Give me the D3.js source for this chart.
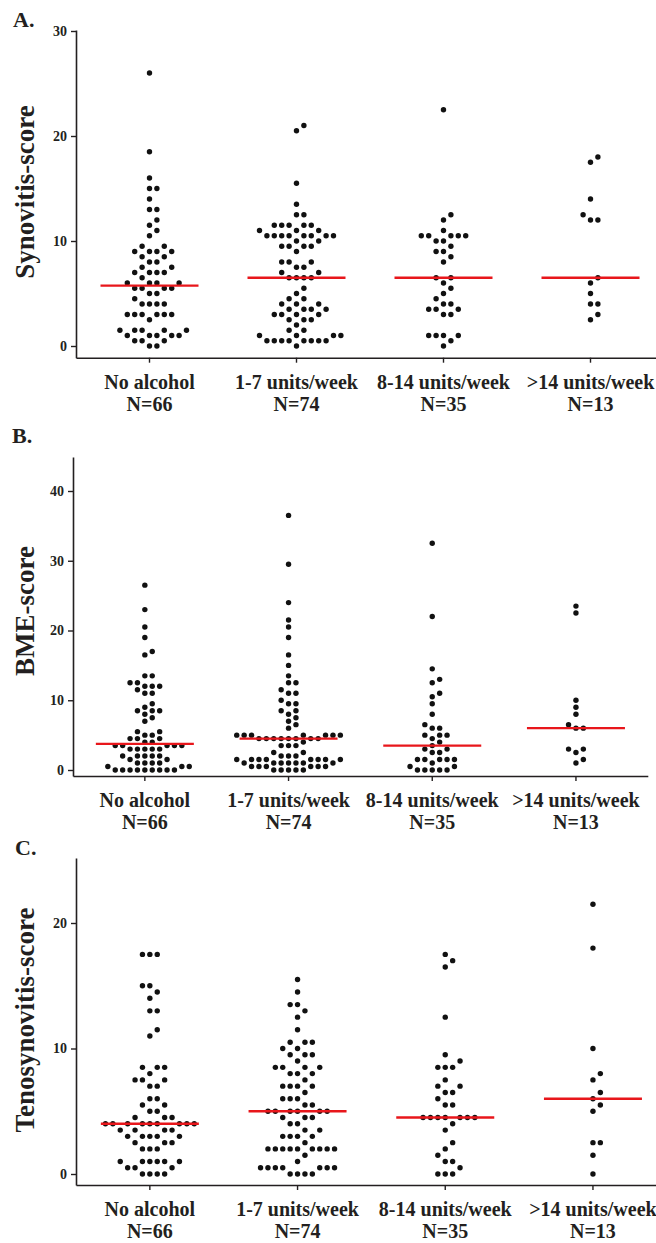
<!DOCTYPE html>
<html>
<head>
<meta charset="utf-8">
<script src="https://cdn.jsdelivr.net/npm/d3@7"></script>
<style>
  body { margin: 0; background: #fff; }
  svg { display: block; font-family: "Liberation Serif", "Times New Roman", serif; font-weight: bold; }
</style>
</head>
<body>
<svg id="chart" width="656" height="1243"></svg>
<script>
// Categories and group sizes
var categories = ['No alcohol', '1-7 units/week', '8-14 units/week', '>14 units/week'];
var groupN = ['N=66', 'N=74', 'N=35', 'N=13'];

// A. Synovitis-score
var synNone = [26, 18.5, 16, 15, 15, 14, 13, 13, 12, 11.5, 11, 10.5, 9.5, 9.5, 9, 9, 9, 9, 8.5, 8.5, 8, 8,
  7.5, 7.5, 7, 7, 7, 7, 6.5, 6, 6, 6, 6, 5.5, 5.5, 5.5, 5.5, 5, 5, 4.5, 4, 4, 4, 4, 3, 3, 3, 3, 3, 3,
  2.5, 1.5, 1.5, 1.5, 1.5, 1.5, 1, 1, 1, 1, 1, 0.5, 0.5, 0.5, 0, 0];
var syn1to7 = [21, 20.5, 15.5, 13.5, 12.5, 12.5, 11.5, 11.5, 11.5, 11.5, 11.5, 11, 11, 11,
  10.5, 10.5, 10.5, 10.5, 10.5, 10.5, 10.5, 10.5, 10, 10, 9.5, 9.5, 9.5, 9.5, 9, 8, 8, 8, 7.5, 7.5,
  7, 7, 6.5, 6.5, 6.5, 6.5, 5.5, 5, 4.5, 4.5, 4, 4, 4, 3.5, 3.5, 3.5, 3.5, 3, 3, 3, 3, 2.5, 2.5, 2.5,
  2, 1.5, 1.5, 1, 1, 1, 1, 0.5, 0.5, 0.5, 0.5, 0.5, 0.5, 0.5, 0.5, 0];
var syn8to14 = [22.5, 12.5, 12, 11, 10.5, 10.5, 10.5, 10.5, 10.5, 10, 10, 9.5, 9, 9, 8.5, 8, 6.5, 6.5,
  6, 5.5, 5, 4.5, 4, 4, 3.5, 3.5, 3.5, 3, 3, 1, 1, 1, 1, 0.5, 0];
var synOver14 = [18, 17.5, 14, 12.5, 12, 12, 6.5, 6, 5, 4, 4, 3, 2.5];
var synMedians = [5.75, 6.5, 6.5, 6.5];

// B. BME-score
var bmeNone = [26.5, 23, 20.5, 19, 17, 16.5, 13.5, 13.5, 12.5, 12.5, 12, 12, 12, 11.5, 11, 11, 9.5, 9,
  8.5, 8.5, 8.5, 8, 7.5, 7, 5.5, 5.5, 5, 5, 4.5, 4.5, 4.5, 4, 4, 3.5, 3.5, 3.5, 3.5, 3.5, 3, 3, 3, 3, 3,
  2, 2, 2, 2, 2, 1.5, 1.5, 1, 1, 1, 1, 0.5, 0.5, 0.5, 0, 0, 0, 0, 0, 0, 0, 0, 0];
var bme1to7 = [36.5, 29.5, 24, 21.5, 20.5, 19, 16.5, 15, 13.5, 12.5, 12.5, 11.5, 11, 11, 10, 9.5, 9.5,
  8.5, 8.5, 8, 7.5, 7, 6.5, 6, 5, 5, 5, 5, 5, 5, 5, 4.5, 4.5, 4.5, 4.5, 4.5, 4.5, 4.5, 4.5, 4,
  3.5, 3.5, 3.5, 2.5, 2.5, 2, 2, 2, 1.5, 1.5, 1.5, 1.5, 1.5, 1.5, 1.5, 1.5, 1, 1, 1, 1, 1, 1, 1,
  0.5, 0.5, 0.5, 0.5, 0.5, 0.5, 0, 0, 0, 0, 0];
var bme8to14 = [32.5, 22, 14.5, 13, 12.5, 11, 10.5, 9.5, 8, 6.5, 6, 6, 5, 5, 5, 4.5, 4, 3.5, 3, 3,
  2.5, 2.5, 1.5, 1.5, 1.5, 1.5, 1.5, 1, 0.5, 0.5, 0, 0, 0, 0, 0];
var bmeOver14 = [23.5, 22.5, 10, 9, 8, 6.5, 6, 6, 3, 3, 2.5, 1.5, 1];
var bmeMedians = [3.75, 4.5, 3.5, 6];

// C. Tenosynovitis-score
var tenNone = [17.5, 17.5, 17.5, 15, 15, 14.5, 14, 13, 13, 11.5, 11, 8.5, 8.5, 8.5, 8, 7.5, 7.5, 7.5,
  7, 7, 6, 6, 5.5, 5.5, 5, 5, 4.5, 4.5, 4.5, 4, 4, 4, 4, 4, 4, 4, 4, 4, 3.5, 3.5, 3.5, 3.5,
  3, 3, 3, 3, 3, 2.5, 2.5, 2.5, 2, 2, 2, 1, 1, 1, 1, 1, 1, 0.5, 0.5, 0.5, 0, 0, 0, 0];
var ten1to7 = [15.5, 14.5, 13.5, 13.5, 13, 12.5, 11.5, 10.5, 10.5, 10.5, 10, 10, 9.5, 9.5, 9.5, 9,
  8.5, 8.5, 8.5, 8.5, 8, 8, 8, 7.5, 7, 7, 7, 7, 6.5, 6, 6, 6, 5.5, 5.5, 5, 5, 5, 5, 5, 5,
  4.5, 4.5, 4.5, 4, 4, 3.5, 3.5, 3, 3, 3, 3, 2.5, 2, 2, 2, 2, 2, 2, 2, 2, 2, 1.5, 1,
  0.5, 0.5, 0.5, 0.5, 0.5, 0.5, 0.5, 0, 0, 0, 0];
var ten8to14 = [17.5, 17, 16.5, 12.5, 9.5, 9, 8.5, 8.5, 8.5, 7.5, 7, 7, 6.5, 6.5, 6, 5.5, 5.5,
  4.5, 4.5, 4.5, 4.5, 4.5, 4.5, 4.5, 4, 3.5, 2.5, 2, 1.5, 1, 1, 0.5, 0, 0, 0];
var tenOver14 = [21.5, 18, 10, 8, 7.5, 6.5, 6, 5.5, 5, 2.5, 2.5, 1.5, 0];
var tenMedians = [4, 5, 4.5, 6];

var svg = d3.select('#chart');
var ink = '#231f20';

// place dots on a horizontal slot grid, lowest values first
function swarm(values, y, cx, slotW, minDy) {
  var placed = [];
  values.slice().sort(d3.ascending).forEach(function (v) {
    var py = y(v);
    for (var k = 0; ; k++) {
      var slot = k === 0 ? 0 : (k % 2 === 1 ? (k + 1) / 2 : -k / 2);
      var clash = placed.some(function (p) { return p.slot === slot && Math.abs(p.y - py) < minDy; });
      if (!clash) { placed.push({ slot: slot, y: py, v: v }); break; }
    }
  });
  return placed.map(function (p) { return { x: cx + p.slot * slotW, y: p.y, v: p.v }; });
}

function drawPanel(cfg) {
  var g = svg.append('g');

  var y = d3.scaleLinear().domain([0, 10]).range([cfg.y0, cfg.y0 - cfg.px10]);
  y.domain([y.invert(cfg.axisBottom), y.invert(cfg.axisTop)]).range([cfg.axisBottom, cfg.axisTop]);

  var x = d3.scaleBand().domain(categories)
    .range([cfg.axisX, cfg.axisX + categories.length * cfg.step])
    .paddingInner(0).paddingOuter(0);

  // y axis
  var ya = g.append('g')
    .attr('transform', 'translate(' + cfg.axisX + ',0)')
    .call(d3.axisLeft(y).tickValues(cfg.ticks).tickSize(5).tickPadding(4).tickSizeOuter(0));
  ya.select('.domain').attr('stroke', ink).attr('stroke-width', 1.6);
  ya.selectAll('.tick line').attr('stroke', ink).attr('stroke-width', 1.4);
  ya.selectAll('.tick text').attr('fill', ink).attr('font-size', '14px')
    .attr('font-family', '"Liberation Serif", serif').attr('font-weight', 'bold');

  // x axis
  var xa = g.append('g')
    .attr('transform', 'translate(0,' + cfg.axisBottom + ')')
    .call(d3.axisBottom(x).tickSize(5).tickSizeOuter(0).tickFormat(''));
  xa.select('.domain').attr('stroke', ink).attr('stroke-width', 1.6);
  xa.selectAll('.tick line').attr('stroke', ink).attr('stroke-width', 1.4);

  // category labels
  categories.forEach(function (c, i) {
    var cx = x(c) + x.bandwidth() / 2;
    g.append('text').attr('x', cx).attr('y', cfg.axisBottom + 31)
      .attr('text-anchor', 'middle').attr('font-size', '20px').attr('fill', ink).text(c);
    g.append('text').attr('x', cx).attr('y', cfg.axisBottom + 53)
      .attr('text-anchor', 'middle').attr('font-size', '20px').attr('fill', ink).text(groupN[i]);
  });

  // dots
  cfg.groups.forEach(function (vals, i) {
    var cx = x(categories[i]) + x.bandwidth() / 2;
    g.append('g').selectAll('circle')
      .data(swarm(vals, y, cx, 7.4, 6.6))
      .join('circle')
      .attr('cx', function (d) { return d.x; })
      .attr('cy', function (d) { return d.y; })
      .attr('r', 2.7)
      .attr('fill', '#111');
  });

  // median lines
  g.append('g').selectAll('line')
    .data(cfg.medians)
    .join('line')
    .attr('x1', function (d, i) { return x(categories[i]) + x.bandwidth() / 2 - 49; })
    .attr('x2', function (d, i) { return x(categories[i]) + x.bandwidth() / 2 + 49; })
    .attr('y1', function (d) { return y(d); })
    .attr('y2', function (d) { return y(d); })
    .attr('stroke', '#e8161b')
    .attr('stroke-width', 2.4);

  // titles
  g.append('text').attr('x', cfg.letterX).attr('y', cfg.letterY)
    .attr('font-size', '22px').attr('fill', ink).text(cfg.letter);
  g.append('text')
    .attr('transform', 'translate(34,' + cfg.titleY + ') rotate(-90)')
    .attr('text-anchor', 'middle').attr('font-size', '27px').attr('fill', ink)
    .text(cfg.title);
}

drawPanel({
  letter: 'A.', letterX: 13, letterY: 27, title: 'Synovitis-score', titleY: 192,
  axisX: 76, step: 147, y0: 346, px10: 105, axisTop: 30, axisBottom: 357.7,
  ticks: [0, 10, 20, 30], groups: [synNone, syn1to7, syn8to14, synOver14], medians: synMedians
});
drawPanel({
  letter: 'B.', letterX: 12, letterY: 443, title: 'BME-score', titleY: 611,
  axisX: 73, step: 143.7, y0: 770, px10: 69.75, axisTop: 457, axisBottom: 776,
  ticks: [0, 10, 20, 30, 40], groups: [bmeNone, bme1to7, bme8to14, bmeOver14], medians: bmeMedians
});
drawPanel({
  letter: 'C.', letterX: 15, letterY: 855, title: 'Tenosynovitis-score', titleY: 1020,
  axisX: 76, step: 147.7, y0: 1174, px10: 125.5, axisTop: 858, axisBottom: 1185,
  ticks: [0, 10, 20], groups: [tenNone, ten1to7, ten8to14, tenOver14], medians: tenMedians
});
</script>
</body>
</html>
